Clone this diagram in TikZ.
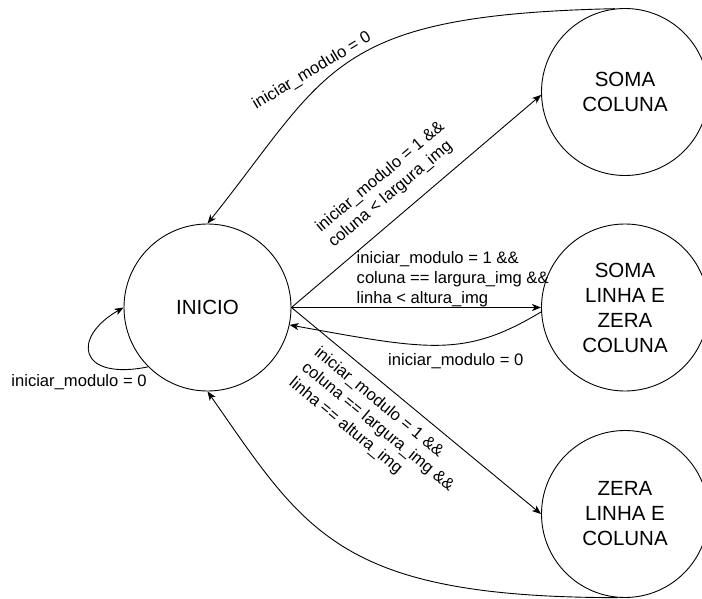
\documentclass[tikz,border=0pt]{standalone}
\usepackage{fontspec}
\setmainfont{Liberation Sans}
\usetikzlibrary{arrows.meta}
\begin{document}
\begin{tikzpicture}[x=1pt,y=-1pt,
  state/.style={draw, circle, minimum size=167pt, inner sep=0pt, align=center,
    font=\fontsize{20.5}{25}\selectfont, line width=0.9pt},
  trans/.style={line width=0.9pt, -{Stealth[length=9pt,width=7pt,inset=2.5pt]}},
  cond/.style={font=\fontsize{16.6}{19.8}\selectfont, inner sep=0pt, align=left},
]
\useasboundingbox (0,0) rectangle (702,599);

% states
\node[state] (inicio)  at (207.5,307.5) {INICIO};
\node[state] (somacol) at (625,92)      {SOMA\\COLUNA};
\node[state] (somalin) at (625,307.5)   {SOMA\\LINHA E\\ZERA\\COLUNA};
\node[state] (zera)    at (625,514)     {ZERA\\LINHA E\\COLUNA};

% transitions
\draw[trans] (somacol.97) .. controls (330,15) and (330,70) .. (inicio.north);
\draw[trans] (inicio.east) -- (somacol.182);
\draw[trans] (inicio.east) -- (somalin.west);
\draw[trans] (somalin.183) .. controls (464.6,357.9) and (429.2,350.2) .. (inicio.-12);
\draw[trans] (inicio.east) -- (zera.west);
\draw[trans] (zera.265) .. controls (338,597.5) and (305.4,531.4) .. (inicio.south);
\draw[trans] (inicio.south west) .. controls (78,381) and (71.3,337.4) .. (inicio.west);

% conditions
\node[cond, rotate=31] (c1) at (312,71) {iniciar\_modulo = 0};
\node[cond, rotate=40, anchor=west] (c2) at (324.5,237)
  {iniciar\_modulo = 1 \&\&\\coluna < largura\_img};
\node[cond, anchor=west] (c3) at (356.5,279.3)
  {iniciar\_modulo = 1 \&\&\\coluna == largura\_img \&\&\\linha < altura\_img};
\node[cond, anchor=base] (c4) at (455.8,365) {iniciar\_modulo = 0};
\node[cond, rotate=-39.5, anchor=west] (c5) at (303.5,366)
  {iniciar\_modulo = 1 \&\&\\coluna == largura\_img \&\&\\linha == altura\_img};
\node[cond, anchor=base] (c6) at (79,386.5) {iniciar\_modulo = 0};
\end{tikzpicture}
\end{document}
